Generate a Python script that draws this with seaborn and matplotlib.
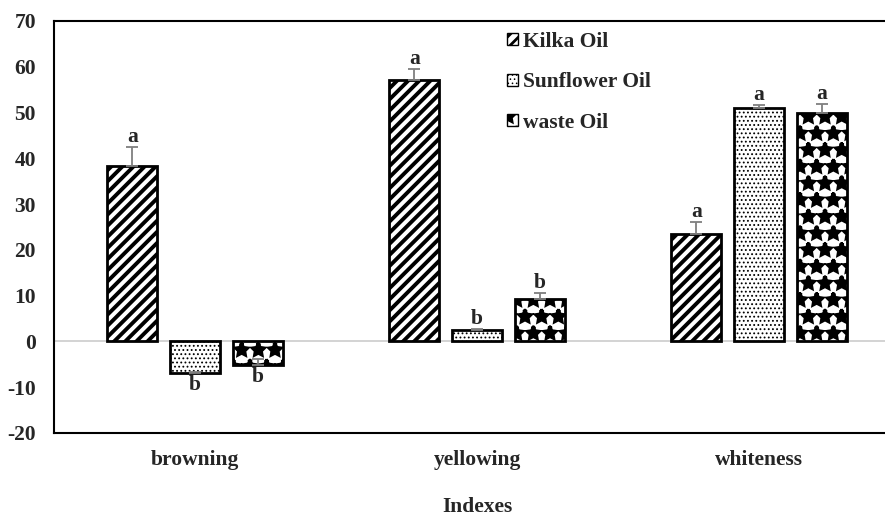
import matplotlib
matplotlib.use("Agg")
import matplotlib.pyplot as plt
from matplotlib.patches import Patch
import seaborn as sns
import pandas as pd

categories = ["browning", "yellowing", "whiteness"]
oils = ["Kilka Oil", "Sunflower Oil", "waste Oil"]
kilka = [38.4, 57.2, 23.4]
sunflower = [-7.0, 2.5, 51.0]
waste = [-5.2, 9.25, 49.8]
kilka_err = [4.0, 2.4, 2.6]
sunflower_err = [0.4, 0.3, 0.7]
waste_err = [1.3, 1.3, 2.0]
kilka_letters = ["a", "a", "a"]
sunflower_letters = ["b", "b", "a"]
waste_letters = ["b", "b", "a"]
yticks = [-20, -10, 0, 10, 20, 30, 40, 50, 60, 70]

values = [kilka, sunflower, waste]
errors = [kilka_err, sunflower_err, waste_err]
letters = [kilka_letters, sunflower_letters, waste_letters]

rows = []
for oil, vals in zip(oils, values):
    for cat, v in zip(categories, vals):
        rows.append({"Indexes": cat, "oil": oil, "value": v})
df = pd.DataFrame(rows)

sns.set_style("white")
plt.rcParams["font.family"] = ["Liberation Serif", "DejaVu Serif"]
plt.rcParams["font.weight"] = "bold"
plt.rcParams["hatch.linewidth"] = 2.0

fig = plt.figure(figsize=(8.85, 5.17), dpi=100)
ax = fig.add_axes([54 / 885, 1 - 433 / 517, 846 / 885, 412 / 517])

sns.barplot(data=df, x="Indexes", y="value", hue="oil", hue_order=oils,
            order=categories, width=0.665, gap=0.2, errorbar=None,
            ax=ax, legend=False, zorder=3)

hatches = ["///", "....", "*"]
faces = ["white", "white", "white"]
hedges = ["black", "black", "black"]
hlw = [2.8, 0.8, 2.7]
fs = 15.5


def style(p, i, lw=None):
    p.set_facecolor(faces[i])
    p.set_hatch(hatches[i])
    p.set_edgecolor(hedges[i])
    w = hlw[i] if lw is None else lw
    if hasattr(p, "set_hatch_linewidth"):
        p.set_hatch_linewidth(w)
    elif hasattr(p, "_hatch_linewidth"):
        p._hatch_linewidth = w


bar_conts = list(ax.containers)
for i, cont in enumerate(bar_conts):
    for j, bar in enumerate(cont):
        style(bar, i)
        bar.set_linewidth(2.0)
        xc = bar.get_x() + bar.get_width() / 2
        v = values[i][j]
        e = errors[i][j]
        ax.errorbar(xc, v, yerr=[[0], [e]], fmt="none", ecolor="#7f7f7f",
                    elinewidth=1.3, capsize=4, capthick=1.3, zorder=5)
        if v >= 0:
            ax.annotate(letters[i][j], (xc, v + e), xytext=(0, 0),
                        textcoords="offset points", ha="center", va="bottom",
                        fontsize=fs, fontweight="bold")
        else:
            ax.annotate(letters[i][j], (xc, v), xytext=(0, -1),
                        textcoords="offset points", ha="center", va="top",
                        fontsize=fs, fontweight="bold")

ax.axhline(0, color="#d0d0d0", lw=1.3, zorder=1)
ax.set_ylim(-20, 70)
ax.set_xlim(-0.5, 2.5)
ax.set_yticks(yticks)
ax.set_yticklabels([str(t) for t in yticks], fontsize=fs, fontweight="bold")
ax.set_xticks(range(len(categories)))
ax.set_xticklabels(categories, fontsize=fs, fontweight="bold")
ax.tick_params(axis="y", length=0, pad=13)
ax.tick_params(axis="x", length=0, pad=12)
ax.set_ylabel("")
ax.set_xlabel("Indexes", fontsize=fs, fontweight="bold", labelpad=20)
for side in ["left", "bottom", "top"]:
    ax.spines[side].set_visible(True)
    ax.spines[side].set_color("black")
    ax.spines[side].set_linewidth(1.5)
ax.spines["right"].set_visible(False)

handles = []
for i in range(3):
    h = Patch(facecolor=faces[i], edgecolor=hedges[i], hatch=hatches[i], label=oils[i])
    handles.append(h)
leg = fig.legend(handles=handles, loc="upper left",
                 bbox_to_anchor=(507 / 885, 1 - 32 / 517), bbox_transform=fig.transFigure,
                 frameon=False, fontsize=fs, handlelength=0.5, handleheight=0.5,
                 handletextpad=0.25, labelspacing=0.95, borderpad=0, borderaxespad=0)
for t in leg.get_texts():
    t.set_fontweight("bold")
for h, i in zip(leg.legend_handles, range(3)):
    w = [2.0, 0.6, 2.5][i]
    if hasattr(h, "set_hatch_linewidth"):
        h.set_hatch_linewidth(w)

fig.savefig("out.png", dpi=100)
